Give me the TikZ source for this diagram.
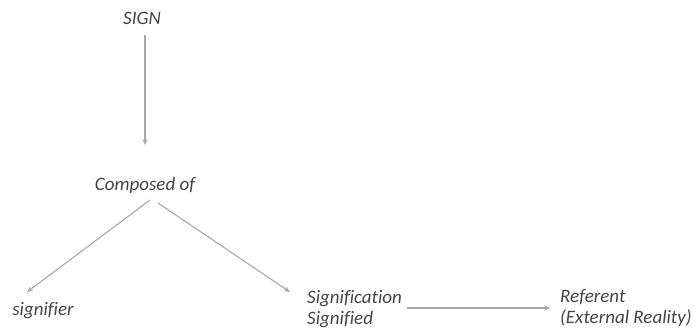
\documentclass[tikz,border=0pt]{standalone}
\usepackage{fontspec}
\setmainfont[Ligatures=CommonOff]{Carlito}
\usetikzlibrary{arrows.meta}
\definecolor{txt}{HTML}{454545}
\definecolor{ln}{HTML}{A8A8A8}
\begin{document}
\begin{tikzpicture}[x=1pt,y=-1pt,
  lbl/.style={font=\fontsize{19}{20.5}\selectfont\itshape, text=txt, inner sep=0pt},
  arr/.style={draw=ln, line width=1.1pt, -{Stealth[length=6pt,width=5pt]}}]
\useasboundingbox (0,0) rectangle (696,331);
\node[lbl] (sign) at (142,18) {SIGN};
\node[lbl] (comp) at (145,185) {Composed of};
\node[lbl] (signifier) at (43,311) {signifier};
\node[lbl, anchor=west, align=left] (sig) at (307,309) {Signification\\Signified};
\node[lbl, anchor=west, align=left] (ref) at (560,308) {Referent\\(External Reality)};
\coordinate (v1) at (145,35);
\coordinate (v2) at (145,145);
\coordinate (l1) at (150,200);
\coordinate (l2) at (27,292);
\coordinate (r1) at (158,203);
\coordinate (r2) at (290,292);
\coordinate (h1) at (407,308);
\coordinate (h2) at (550,308);
\draw[arr] (v1) -- (v2);
\draw[arr] (l1) -- (l2);
\draw[arr] (r1) -- (r2);
\draw[arr] (h1) -- (h2);
\end{tikzpicture}
\end{document}
